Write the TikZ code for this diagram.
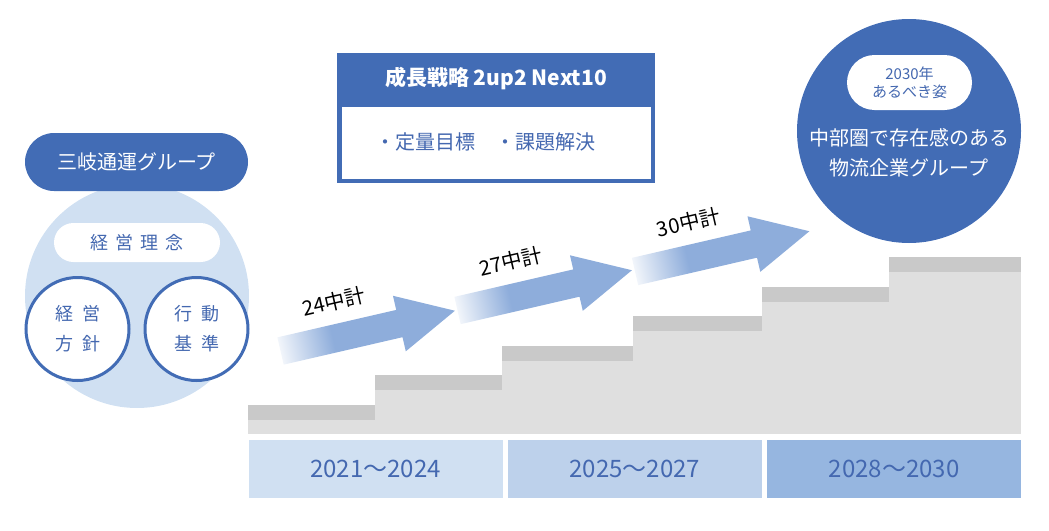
\documentclass[tikz,border=0pt]{standalone}
\usepackage{fontspec}
\setmainfont{Noto Sans CJK JP}
\usepackage{tikz}
\definecolor{azul}{RGB}{66,108,181}
\definecolor{azultexto}{RGB}{68,104,176}
\definecolor{celeste}{RGB}{208,224,242}
\definecolor{celestemedio}{RGB}{189,209,235}
\definecolor{celesteoscuro}{RGB}{150,182,224}
\definecolor{azulflecha}{RGB}{142,173,219}
\definecolor{grisclaro}{RGB}{223,223,223}
\definecolor{grisoscuro}{RGB}{201,201,201}
\pgfdeclarehorizontalshading{flecha}{100bp}{color(0bp)=(white); color(21bp)=(white!92!azulflecha); color(39bp)=(azulflecha); color(100bp)=(azulflecha)}
\tikzset{
  pildora/.style={inner sep=0pt, rounded corners=#1},
  anillo/.style={circle, draw=azul, line width=3pt, fill=white, minimum size=103pt, inner sep=0pt, text=azultexto, align=center, font=\fontsize{18}{30}\selectfont},
  periodo/.style={minimum width=254pt, minimum height=57.5pt, inner sep=0pt, text=azultexto, font=\fontsize{24}{28}\selectfont}
}

\begin{document}
\begin{tikzpicture}[x=1pt, y=-1pt, font=\fontsize{20}{24}\selectfont]
\useasboundingbox (0,0) rectangle (1049,530);
% escalera
\foreach \xa/\xb/\yt in {248/375/405, 375/502/375, 502/633/346, 633/762/316, 762/889/287, 889/1021/257}{
  \fill[grisclaro] (\xa,\yt) rectangle (\xb,434);
  \fill[grisoscuro] (\xa,\yt) rectangle (\xb,\yt+15);
}
\node[periodo, fill=celeste] (p1) at (375.5,469) {2021～2024};
\node[periodo, fill=celestemedio] (p2) at (634.75,469) {2025～2027};
\node[periodo, fill=celesteoscuro] (p3) at (894.25,469) {2028～2030};
% flechas
\foreach \px/\py/\txt [count=\i] in {280.5/351/24中計, 457.5/310.5/27中計, 635/271.5/30中計}{
  \begin{scope}[shift={(\px,\py)}, rotate=13]
    \shade[shading=flecha, shading angle=13] (0,-14) -- (122,-14) -- (122,-28.5) -- (179,0) -- (122,28.5) -- (122,14) -- (0,14) -- cycle;
    \node[transform shape, font=\fontsize{20.5}{24}\selectfont] (plazo\i) at (63,-36) {\txt};
  \end{scope}
}
% grupo
\node[circle, fill=celeste, minimum size=224pt] (filosofia) at (137,296) {};
\node[pildora=29pt, fill=azul, text=white, minimum width=223pt, minimum height=58pt] (grupo) at (136.5,162) {三岐通運グループ};
\node[pildora=19.5pt, fill=white, text=azultexto, minimum width=166pt, minimum height=39pt, font=\fontsize{18}{22}\selectfont] (rinen) at (137,242.5) {経\hspace{7pt}営\hspace{7pt}理\hspace{7pt}念};
\node[anillo] (hoshin) at (77.5,329) {経\hspace{9pt}営\\方\hspace{9pt}針};
\node[anillo] (kijun) at (196.5,329) {行\hspace{9pt}動\\基\hspace{9pt}準};
% plan
\node[fill=azul, minimum width=318pt, minimum height=130pt, inner sep=0pt] (plan) at (496,118) {};
\node[text=white, font=\fontsize{21}{24}\selectfont\bfseries] (estrategia) at (496,79) {成長戦略 2up2 Next10};
\node[fill=white, minimum width=309pt, minimum height=71.5pt, inner sep=0pt] (cuerpo) at (496,142.75) {};
\node[text=azultexto, inner sep=0pt] (metas) at (485,142) {・定量目標\hspace{20pt}・課題解決};
% vision
\node[circle, fill=azul, minimum size=224pt] (vision) at (909,131) {};
\node[pildora=27.5pt, fill=white, text=azultexto, minimum width=125pt, minimum height=55pt, align=center, font=\fontsize{15}{18}\selectfont] (meta2030) at (909.5,82.5) {2030年\\あるべき姿};
\node[text=white, align=center, font=\fontsize{20}{30}\selectfont] (ideal) at (909,153) {中部圏で存在感のある\\物流企業グループ};
\end{tikzpicture}
\end{document}
